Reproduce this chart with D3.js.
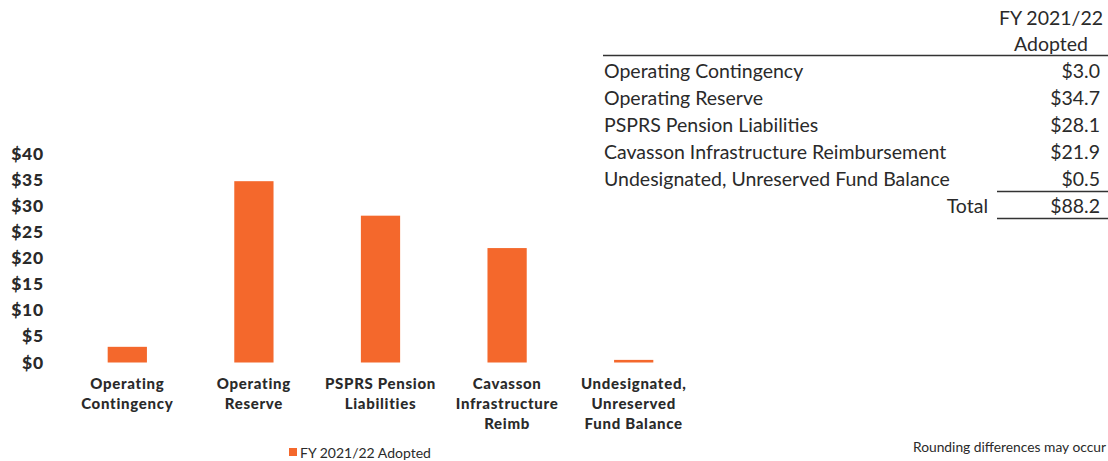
<!DOCTYPE html>
<html>
<head>
<meta charset="utf-8">
<script src="https://cdn.jsdelivr.net/npm/d3@7"></script>
<style>
  html, body { margin: 0; padding: 0; background: #fff; }
  svg { display: block; font-family: "Lato", "Open Sans", sans-serif; }
</style>
</head>
<body>
<svg id="chart" width="1108" height="461"></svg>
<script>
// Reserve categories (table wording) and short axis labels
const categories = [
  "Operating Contingency",
  "Operating Reserve",
  "PSPRS Pension Liabilities",
  "Cavasson Infrastructure Reimbursement",
  "Undesignated, Unreserved Fund Balance"
];
const axisLabels = [
  ["Operating", "Contingency"],
  ["Operating", "Reserve"],
  ["PSPRS Pension", "Liabilities"],
  ["Cavasson", "Infrastructure", "Reimb"],
  ["Undesignated,", "Unreserved", "Fund Balance"]
];
// FY 2021/22 adopted amounts, $ millions
const adopted = [3.0, 34.7, 28.1, 21.9, 0.5];
const adoptedTotal = 88.2;
const yTicks = [0, 5, 10, 15, 20, 25, 30, 35, 40];
const seriesName = "FY 2021/22 Adopted";
const tableHeader = ["FY 2021/22", "Adopted"];
const footnote = "Rounding differences may occur";

const orange = "#F4682C";
const ink = "#2a2a2a";

const svg = d3.select("#chart");

// ---- bar chart ----
const x = d3.scaleBand().domain(categories).range([64, 697]).paddingInner(0.69).paddingOuter(0.345);
const y = d3.scaleLinear().domain([0, 40]).range([362.5, 153.5]);

const yAxis = svg.append("g")
  .attr("transform", "translate(44,0)")
  .call(d3.axisLeft(y).tickValues(yTicks).tickSize(0).tickPadding(0).tickFormat(d => "$" + d));
yAxis.select(".domain").remove();
yAxis.selectAll("text")
  .attr("fill", ink)
  .style("font-size", "17.5px")
  .style("font-weight", "900")
  .style("letter-spacing", "0.8px")
  .style("font-family", "Lato, sans-serif");

svg.append("g").selectAll("rect")
  .data(adopted)
  .join("rect")
  .attr("x", (d, i) => x(categories[i]))
  .attr("width", x.bandwidth())
  .attr("y", d => y(d))
  .attr("height", d => y(0) - y(d))
  .attr("fill", orange);

const xl = svg.append("g").selectAll("text")
  .data(axisLabels)
  .join("text")
  .attr("text-anchor", "middle")
  .attr("fill", ink)
  .style("font-size", "15px")
  .style("font-weight", "900")
  .style("letter-spacing", "0.7px");
xl.each(function(lines, i) {
  const cx = x(categories[i]) + x.bandwidth() / 2;
  d3.select(this).selectAll("tspan")
    .data(lines)
    .join("tspan")
    .attr("x", cx)
    .attr("y", (d, j) => 389 + j * 20)
    .text(d => d);
});

// legend
const legend = svg.append("g").attr("transform", "translate(289,448)");
legend.append("rect").attr("width", 8).attr("height", 8).attr("fill", orange);
legend.append("text").attr("x", 11).attr("y", 10)
  .attr("fill", ink).style("font-size", "14px").text(seriesName);

// ---- summary table ----
const t = svg.append("g").attr("fill", ink).style("font-size", "19.5px");
const valueX = 1100, labelX = 604, rowY0 = 78, rowH = 27;

t.selectAll(".hdr")
  .data(tableHeader)
  .join("text")
  .attr("class", "hdr")
  .attr("x", 1051)
  .attr("y", (d, i) => 25 + i * 26)
  .attr("text-anchor", "middle")
  .text(d => d);

t.append("line").attr("x1", 603).attr("x2", 1108).attr("y1", 55.5).attr("y2", 55.5)
  .attr("stroke", "#333").attr("stroke-width", 1.4);

categories.forEach((c, i) => {
  t.append("text").attr("x", labelX).attr("y", rowY0 + i * rowH).text(c);
  t.append("text").attr("x", valueX).attr("y", rowY0 + i * rowH)
    .attr("text-anchor", "end").text("$" + adopted[i].toFixed(1));
});

t.append("line").attr("x1", 997).attr("x2", 1108).attr("y1", 191.5).attr("y2", 191.5)
  .attr("stroke", "#333").attr("stroke-width", 1.4);
t.append("text").attr("x", 988).attr("y", rowY0 + 5 * rowH).attr("text-anchor", "end").text("Total");
t.append("text").attr("x", valueX).attr("y", rowY0 + 5 * rowH).attr("text-anchor", "end")
  .text("$" + adoptedTotal.toFixed(1));
t.append("line").attr("x1", 997).attr("x2", 1108).attr("y1", 218.5).attr("y2", 218.5)
  .attr("stroke", "#333").attr("stroke-width", 1.4);

// footnote, right-aligned to the page edge
svg.append("text").attr("x", 1106).attr("y", 452).attr("text-anchor", "end")
  .attr("fill", ink).style("font-size", "13.8px").text(footnote);
</script>
</body>
</html>
